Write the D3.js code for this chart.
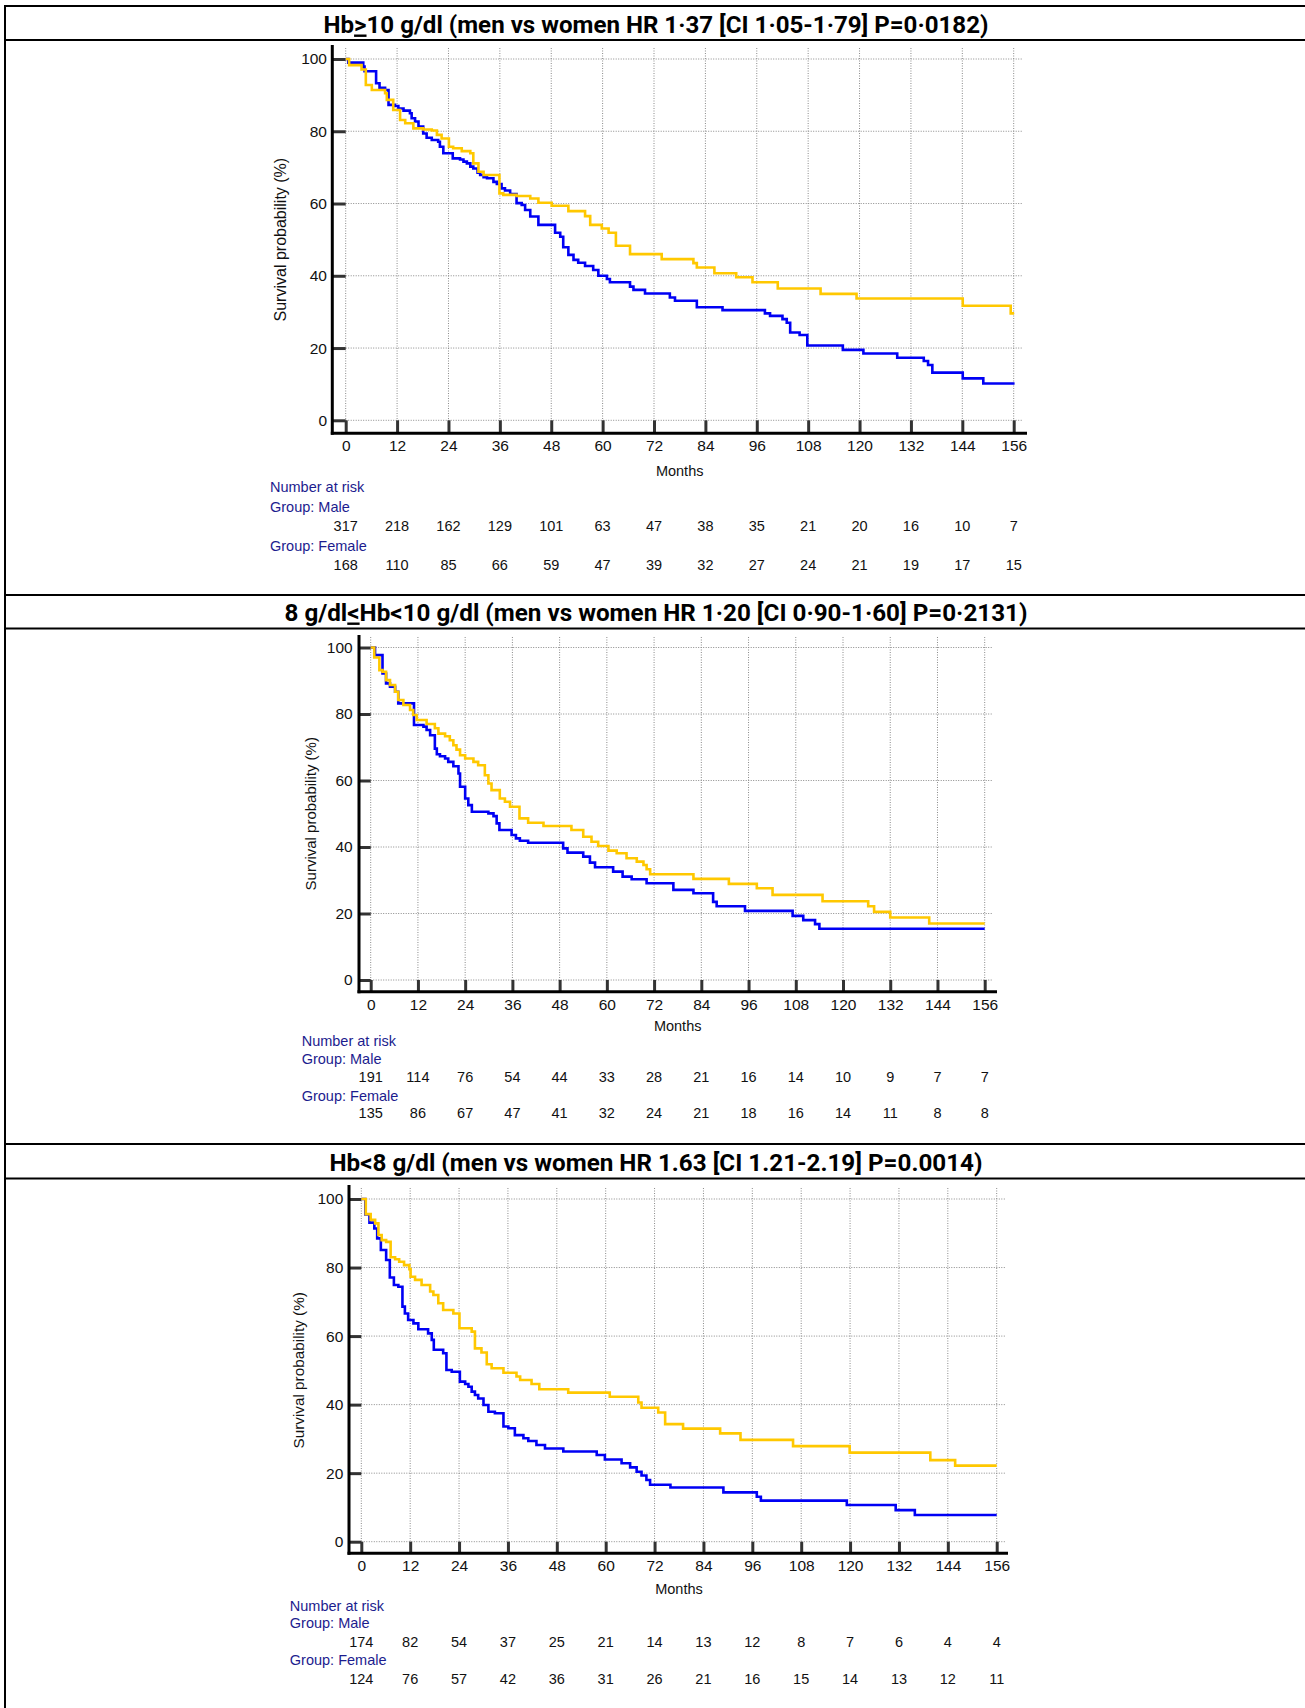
<!DOCTYPE html>
<html>
<head>
<meta charset="utf-8">
<script src="https://cdn.jsdelivr.net/npm/d3@7"></script>
<style>
  html, body { margin: 0; padding: 0; background: #fff; }
  svg { display: block; }
  text { font-family: "Liberation Sans", Arial, sans-serif; }
</style>
</head>
<body>
<svg id="fig" width="1305" height="1708"></svg>
<script>
// ---- Axis ticks ----
const monthTicks = [0, 12, 24, 36, 48, 60, 72, 84, 96, 108, 120, 132, 144, 156];
const survivalTicks = [0, 20, 40, 60, 80, 100];
const groupNames = ["Male", "Female"];

// ---- Panel titles: [before, underlined symbol, after] ----
const titles = [
  ["Hb", ">", "10 g/dl (men vs women HR 1·37 [CI 1·05-1·79] P=0·0182)"],
  ["8 g/dl", "<", "Hb<10 g/dl (men vs women HR 1·20 [CI 0·90-1·60] P=0·2131)"],
  ["Hb<8 g/dl (men vs women HR 1.63 [CI 1.21-2.19] P=0.0014)", "", ""]
];

// ---- Kaplan-Meier steps: [month, survival %] (value after each drop) ----
const maleHbHigh = [
  [0,100],[0.6,99],[4.1,97.9],[4.4,96.6],[7.1,93.3],[7.9,92],[9.2,91.4],[10,87.3],[11.5,87],
  [12.3,86.3],[13.5,85.7],[15,85],[15.4,83.6],[16.2,82.7],[17,81.3],[18.1,79.4],[18.9,78.2],
  [20.1,77.6],[21.6,77.1],[22,75.7],[22.8,73.9],[25,72.5],[26.7,72.2],[27.5,71.6],[28.3,71.1],
  [29.1,70.2],[29.8,69.7],[30.8,68.5],[31.4,67.9],[32.2,67.3],[33,67],[34.5,66],[35.3,65.4],
  [36.4,64.2],[37.2,63.6],[38.4,62.6],[39.9,60.1],[41.1,59.6],[41.9,58.2],[43.1,56.4],[45,54.1],
  [48.9,51.9],[50.1,50.8],[50.8,47.9],[52,45.8],[53.2,44.4],[54.3,43.6],[55.9,42.7],[57.8,41.6],
  [59,40],[61,39.1],[61.7,38.2],[66.4,37],[67.2,36.1],[69.9,35.1],[75.7,34],[76.9,33.1],
  [82,31.3],[88,30.5],[97.9,29.6],[99.1,28.9],[102,28],[103,27],[103.8,24.3],[106,23.6],
  [107.8,20.7],[116.1,19.5],[120.9,18.5],[128.8,17.3],[135,16.4],[136,15.3],[137,13.2],
  [144.1,11.6],[148.9,10.2],[156.2,10.2]
];
const femaleHbHigh = [
  [0,100],[0.8,98.3],[3.7,97.1],[4.7,92.8],[6.1,91.4],[9.2,90.5],[9.6,88.7],[11.1,85.9],
  [12.7,83.1],[13.9,82.2],[15.8,80.8],[18.1,80.5],[20.1,80.2],[21.3,79],[22.4,78],[24.1,75.7],
  [25.1,75.3],[27.1,74.5],[29.1,73.9],[29.8,71.1],[31,68.8],[32.2,67.9],[35.9,62.8],[36.8,62.4],
  [39.9,62.1],[43.1,61.4],[45,60.2],[48.1,59.4],[52,57.9],[55.9,56.5],[57.1,54.1],[59.8,53.1],
  [61.4,51.9],[63.1,48.3],[66.4,46],[73.8,44.6],[81.2,43.5],[82,42.3],[86.1,40.7],[91.2,39.6],
  [95,38.2],[100.9,36.5],[110.9,35],[119.3,33.7],[144.1,31.7],[155.3,29.6],[156.1,29.6]
];
const maleHbMid = [
  [0,100],[1.1,97.7],[3,92.2],[3.9,89.2],[4.9,88.2],[6.2,86.7],[7,83.2],[11,76.7],[13.4,76.2],
  [14.2,75.2],[15.1,73.6],[16.3,69.6],[16.8,67.9],[17.6,67.3],[18.9,66.6],[19.7,65.6],[21,64.3],
  [22.3,62.1],[22.7,58.1],[24,54.6],[24.8,52.6],[25.7,50.6],[29.9,50.1],[31.2,49.3],[32,47.1],
  [32.7,45.1],[35.8,43.6],[36.9,42.6],[37.9,41.9],[40,41.3],[48.9,39.6],[50,38.3],[54,37.1],
  [55.7,35.3],[57,33.9],[61.6,32.6],[64,31.1],[66.3,30.3],[70.1,29.1],[76.9,27.1],[82,26.1],
  [87,23.5],[87.9,22.2],[95.1,20.8],[107.2,19.3],[109.9,18],[112.9,16.8],[114,15.4],[156,15.4]
];
const femaleHbMid = [
  [0,100],[0.9,97],[2.2,93.2],[3,92.7],[3.9,90.2],[4.9,88.7],[6.2,86.7],[7,84.2],[8.3,82.7],
  [10,81.2],[10.8,79.7],[11.7,78.2],[14.2,77],[16.3,75.7],[17.2,74.1],[18.9,73.3],[20.1,72.1],
  [21,70.6],[21.8,69.3],[22.7,67.6],[24,66.6],[26.1,65.6],[27.3,64.6],[29,61.6],[29.9,59.1],
  [30.7,57.1],[32.8,54.6],[34.1,53.6],[35.4,52.1],[37.8,48.6],[40,47.3],[43.9,46.3],[51,45.1],
  [54,43.1],[56.1,41.6],[57.8,40.3],[60.4,38.9],[62.5,38.1],[65,36.6],[67.6,35.6],[69.3,34.6],
  [70.1,33.3],[71,31.8],[82,30.4],[91,28.9],[98.1,27.6],[102.1,25.6],[114.8,23.7],[126.4,22.2],
  [127.9,20.5],[132,18.8],[141.9,17],[156,17]
];
const maleHbLow = [
  [0,100],[1,95.5],[2,93.1],[3.2,91.4],[3.9,88.5],[4.8,85.1],[6.1,82.2],[7,77.1],[8,74.9],
  [9.1,74.4],[10.1,68.6],[10.7,66.6],[11.5,64.7],[12.8,63.7],[14,62],[16.4,60.8],[17.3,58.9],
  [17.8,56],[20.1,55],[20.9,50.1],[22.2,49.6],[24.2,46.7],[25.5,46],[26.3,45.2],[27.1,43.8],
  [27.9,42.8],[28.7,41.8],[30,39.9],[31.2,37.9],[32.8,37.5],[34.9,33.6],[36.1,33.1],[37.7,31.1],
  [39.8,30.2],[41,29.4],[43,28.2],[45.1,27.2],[49.6,26.3],[57.8,25.3],[59.8,24],[63.9,22.9],
  [66,21.7],[67.6,20.4],[68.8,19.3],[70,18],[70.9,16.6],[75.9,15.8],[88.9,14.4],[97.1,13.1],
  [98.1,12],[119.2,10.7],[131.2,9.2],[135.9,7.8],[156,7.8]
];
const femaleHbLow = [
  [0,100],[1.1,95.6],[2.3,93.9],[3.4,92.9],[4.2,89.5],[5,88],[6.1,87.5],[7.2,83],[8.3,82.4],
  [9.3,81.7],[10.5,80.7],[11.8,79.5],[12.1,77.3],[13.2,76.4],[14.8,74.9],[16.9,73],[17.7,72],
  [18.9,69.6],[20.1,67.6],[22.6,66.6],[24.1,62.3],[27.1,61.3],[27.9,56.4],[29.5,55.2],[30.8,51.8],
  [32,50.6],[34.9,49.3],[38.1,48.2],[39,47.2],[41.8,46],[43.7,44.5],[50.8,43.5],[61,42.3],
  [68,40.6],[68.8,39.1],[72.9,37.7],[74.6,34.3],[79,33],[88.1,31.6],[93.1,29.7],[106,27.9],
  [119.9,26],[139.7,23.8],[145.8,22.2],[156,22.2]
];

// ---- Numbers at risk at each month tick ----
const riskMaleHbHigh   = [317, 218, 162, 129, 101, 63, 47, 38, 35, 21, 20, 16, 10, 7];
const riskFemaleHbHigh = [168, 110, 85, 66, 59, 47, 39, 32, 27, 24, 21, 19, 17, 15];
const riskMaleHbMid    = [191, 114, 76, 54, 44, 33, 28, 21, 16, 14, 10, 9, 7, 7];
const riskFemaleHbMid  = [135, 86, 67, 47, 41, 32, 24, 21, 18, 16, 14, 11, 8, 8];
const riskMaleHbLow    = [174, 82, 54, 37, 25, 21, 14, 13, 12, 8, 7, 6, 4, 4];
const riskFemaleHbLow  = [124, 76, 57, 42, 36, 31, 26, 21, 16, 15, 14, 13, 12, 11];

// ---- Panel geometry ----
const panels = [
  { title: titles[0], male: maleHbHigh, female: femaleHbHigh, riskM: riskMaleHbHigh, riskF: riskFemaleHbHigh,
    titleY: 24, titleW: 665,
    left: 345.7, right: 1013.7, top: 59, bottom: 420.3,
    axisX: 332.3, axisY: 433.3, axisTop: 45, axisRight: 1027, gridTop: 48, gridRight: 1023,
    yLabelRight: 327, xLabelY: 446, yTitleX: 280, yTitleSize: 16, monthsY: 471,
    riskX: 270, riskY: [487, 506.5, 526, 546, 565] },
  { title: titles[1], male: maleHbMid, female: femaleHbMid, riskM: riskMaleHbMid, riskF: riskFemaleHbMid,
    titleY: 612, titleW: 743,
    left: 370.7, right: 984.7, top: 647.5, bottom: 980,
    axisX: 359, axisY: 991.7, axisTop: 635, axisRight: 997, gridTop: 637, gridRight: 993,
    yLabelRight: 352.7, xLabelY: 1003.3, yTitleX: 310.7, yTitleSize: 15, monthsY: 1026,
    riskX: 301.7, riskY: [1041.4, 1058.8, 1077.3, 1095.8, 1113.3] },
  { title: titles[2], male: maleHbLow, female: femaleHbLow, riskM: riskMaleHbLow, riskF: riskFemaleHbLow,
    titleY: 1162, titleW: 653,
    left: 361.3, right: 996.7, top: 1199, bottom: 1541.7,
    axisX: 349, axisY: 1553.3, axisTop: 1185, axisRight: 1008, gridTop: 1188, gridRight: 1005,
    yLabelRight: 343.3, xLabelY: 1565, yTitleX: 299, yTitleSize: 15.3, monthsY: 1589,
    riskX: 289.8, riskY: [1605.6, 1623, 1641.6, 1660, 1678.6] }
];

const MALE_COLOR = "#0000f4";
const FEMALE_COLOR = "#ffc800";
const RISK_LABEL_COLOR = "#1c1c8e";

const svg = d3.select("#fig");

// Table frame around the three panels
const ruleYs = [6, 40, 595, 628.5, 1144, 1178.5];
svg.append("g").selectAll("line").data(ruleYs).join("line")
  .attr("x1", 4).attr("x2", 1305)
  .attr("y1", d => d).attr("y2", d => d)
  .attr("stroke", "#000").attr("stroke-width", 2);
svg.append("line").attr("x1", 5).attr("x2", 5).attr("y1", 5).attr("y2", 1708)
  .attr("stroke", "#000").attr("stroke-width", 2);

panels.forEach(p => {
  const g = svg.append("g");
  const x = d3.scaleLinear().domain([0, 156]).range([p.left, p.right]);
  const y = d3.scaleLinear().domain([0, 100]).range([p.bottom, p.top]);

  // Title
  const t = g.append("text")
    .attr("x", 656).attr("y", p.titleY + 8.5)
    .attr("text-anchor", "middle")
    .attr("textLength", p.titleW).attr("lengthAdjust", "spacingAndGlyphs")
    .style("font-family", "'Liberation Sans Narrow', Roboto, 'Liberation Sans', sans-serif")
    .style("font-weight", "bold").style("font-size", "24px").attr("fill", "#000");
  t.append("tspan").text(p.title[0]);
  if (p.title[1]) t.append("tspan").style("text-decoration", "underline").text(p.title[1]);
  if (p.title[2]) t.append("tspan").text(p.title[2]);

  // Dotted grid
  const grid = g.append("g").attr("stroke", "#8a8a8a").attr("stroke-width", 1)
    .attr("stroke-dasharray", "1,1.5");
  grid.selectAll(".v").data(monthTicks).join("line").attr("class", "v")
    .attr("x1", d => x(d)).attr("x2", d => x(d))
    .attr("y1", p.gridTop).attr("y2", p.bottom);
  grid.selectAll(".h").data(survivalTicks).join("line").attr("class", "h")
    .attr("x1", p.left).attr("x2", p.gridRight)
    .attr("y1", d => y(d)).attr("y2", d => y(d));

  // Axes with inward ticks
  const xAxis = d3.axisBottom(x).tickValues(monthTicks)
    .tickSizeInner(-(p.axisY - p.bottom)).tickSizeOuter(0).tickPadding(7);
  const gx = g.append("g").attr("transform", `translate(0,${p.axisY})`).call(xAxis);
  const yAxis = d3.axisLeft(y).tickValues(survivalTicks)
    .tickSizeInner(-(p.left - p.axisX)).tickSizeOuter(0).tickPadding(p.axisX - p.yLabelRight);
  const gy = g.append("g").attr("transform", `translate(${p.axisX},0)`).call(yAxis);
  [gx, gy].forEach(a => {
    a.select(".domain").remove();
    a.selectAll(".tick line").attr("stroke", "#333").attr("stroke-width", 3);
    a.selectAll(".tick text").attr("fill", "#111")
      .style("font-size", "15.5px").style("font-family", "'Liberation Sans', Arial, sans-serif");
  });

  // Axis lines
  g.append("line").attr("x1", p.axisX).attr("x2", p.axisX)
    .attr("y1", p.axisTop).attr("y2", p.axisY + 1.5)
    .attr("stroke", "#000").attr("stroke-width", 3);
  g.append("line").attr("x1", p.axisX - 1.5).attr("x2", p.axisRight)
    .attr("y1", p.axisY).attr("y2", p.axisY)
    .attr("stroke", "#000").attr("stroke-width", 3);

  // Axis titles
  g.append("text")
    .attr("transform", `translate(${p.yTitleX},${(p.top + p.bottom) / 2}) rotate(-90)`)
    .attr("text-anchor", "middle").attr("dy", "0.35em")
    .style("font-size", p.yTitleSize + "px").attr("fill", "#111")
    .text("Survival probability (%)");
  g.append("text")
    .attr("x", (p.left + p.right) / 2).attr("y", p.monthsY).attr("dy", "0.35em")
    .attr("text-anchor", "middle").style("font-size", "14.5px").attr("fill", "#111")
    .text("Months");

  // Survival curves
  const line = d3.line().curve(d3.curveStepAfter).x(d => x(d[0])).y(d => y(d[1]));
  g.append("path").datum(p.male).attr("d", line)
    .attr("fill", "none").attr("stroke", MALE_COLOR).attr("stroke-width", 2.6);
  g.append("path").datum(p.female).attr("d", line)
    .attr("fill", "none").attr("stroke", FEMALE_COLOR).attr("stroke-width", 2.6);

  // Number at risk table
  const risk = g.append("g").style("font-size", "14.5px");
  risk.append("text").attr("x", p.riskX).attr("y", p.riskY[0]).attr("dy", "0.35em")
    .attr("fill", RISK_LABEL_COLOR).text("Number at risk");
  [[p.riskM, 1, 2], [p.riskF, 3, 4]].forEach(([vals, labelRow, numRow], i) => {
    risk.append("text").attr("x", p.riskX).attr("y", p.riskY[labelRow]).attr("dy", "0.35em")
      .attr("fill", RISK_LABEL_COLOR).text("Group: " + groupNames[i]);
    risk.selectAll(null).data(vals).join("text")
      .attr("x", (d, k) => x(monthTicks[k])).attr("y", p.riskY[numRow]).attr("dy", "0.35em")
      .attr("text-anchor", "middle").attr("fill", "#111").text(d => d);
  });
});
</script>
</body>
</html>
